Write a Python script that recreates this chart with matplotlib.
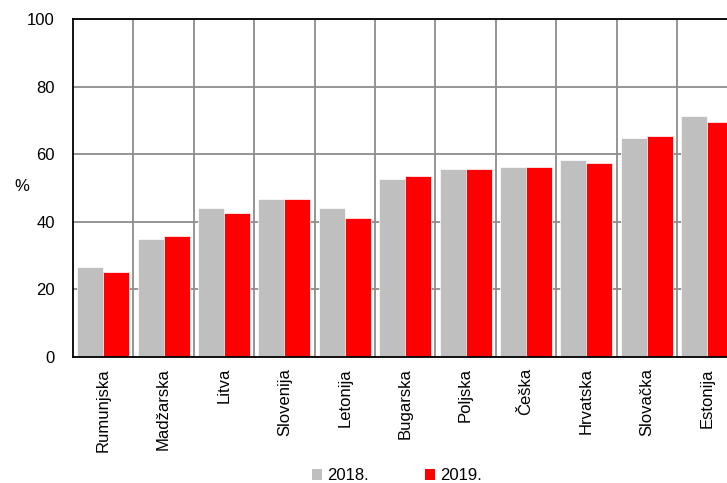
import matplotlib
matplotlib.use("Agg")
import matplotlib.pyplot as plt
import numpy as np
from matplotlib.patches import Patch

plt.rcParams['font.family'] = ['Liberation Sans', 'DejaVu Sans']

categories = ["Rumunjska", "Madžarska", "Litva", "Slovenija", "Letonija", "Bugarska",
              "Poljska", "Češka", "Hrvatska", "Slovačka", "Estonija"]
values_2018 = [26.6, 34.9, 44.1, 46.8, 44.0, 52.7, 55.6, 56.1, 58.4, 64.9, 71.3]
values_2019 = [25.2, 35.8, 42.7, 46.8, 41.2, 53.6, 55.6, 56.1, 57.5, 65.3, 69.4]
series_labels = ["2018.", "2019."]
colors = ["#BFBFBF", "#FF0000"]

fs = 12
fig = plt.figure(figsize=(7.27, 4.83), dpi=100)
ax = fig.add_axes([73/727, 126/483, 664.4/727, 338/483])

x = np.arange(len(categories))
w = 0.43
ax.bar(x - w/2, values_2018, w, color=colors[0], edgecolor='white', linewidth=0.5, zorder=3)
ax.bar(x + w/2, values_2019, w, color=colors[1], edgecolor='white', linewidth=0.5, zorder=3)

ax.set_xlim(-0.5, len(categories) - 0.5)
ax.set_ylim(0, 100)
ax.set_yticks(np.arange(0, 101, 20))
ax.set_xticks(x)
ax.set_xticklabels(categories, rotation=90, fontsize=fs)
ax.set_xticks(np.arange(0.5, len(categories) - 0.5, 1), minor=True)
ax.tick_params(axis='both', which='both', length=0, labelsize=fs)
ax.tick_params(axis='x', pad=8)
ax.tick_params(axis='y', pad=13)
ax.grid(axis='y', which='major', color='#8C8C8C', linewidth=1.3, zorder=0)
ax.grid(axis='x', which='minor', color='#8C8C8C', linewidth=1.3, zorder=0)
ax.set_axisbelow(True)
for s in ['left', 'bottom', 'top']:
    ax.spines[s].set_color('black')
    ax.spines[s].set_linewidth(1.3)
    ax.spines[s].set_zorder(5)
ax.spines['right'].set_visible(False)

fig.text(22/727, 1 - 186/483, "%", fontsize=fs, ha='center', va='center')

handles = [Patch(facecolor=c, edgecolor='none') for c in colors]
fig.legend(handles, series_labels, loc='center', bbox_to_anchor=(397/727, 1 - 476/483),
           ncol=2, frameon=False, fontsize=fs, handlelength=0.6, handleheight=0.6,
           handletextpad=0.3, columnspacing=3.4)

fig.savefig("out.png", dpi=100)
